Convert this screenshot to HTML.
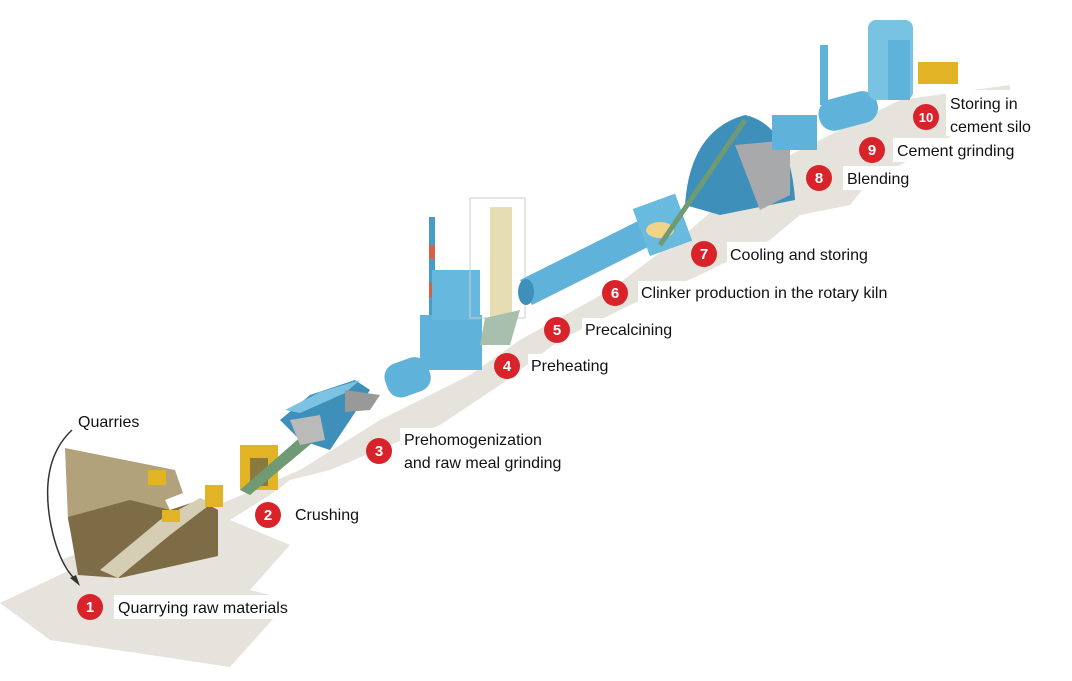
<!DOCTYPE html>
<html><head><meta charset="utf-8"><style>
html,body{margin:0;padding:0;background:#fff;width:1072px;height:681px;overflow:hidden}
svg{display:block}
text{font-family:"Liberation Sans",sans-serif}
.l{font-size:16px;fill:#111}
.n{font-size:15px;fill:#fff;font-weight:bold;text-anchor:middle}
</style></head><body>
<svg width="1072" height="681" viewBox="0 0 1072 681">
<!-- ground -->
<polygon fill="#e6e3dc" points="0,603 70,570 60,560 230,500 300,470 380,420 470,375 520,340 610,290 690,230 760,170 820,140 900,100 1010,85 1012,115 960,130 930,150 870,180 850,205 800,215 770,240 700,275 630,305 560,340 500,385 440,425 390,445 330,470 290,480 270,495 230,520 290,545 250,590 290,600 230,667 50,640"/>
<!-- quarry -->
<polygon fill="#b2a27c" points="65,448 175,470 183,493 165,500 170,510 185,513 216,510 218,555 120,575 80,575 68,520"/>
<polygon fill="#7d6c46" points="68,517 130,500 170,510 200,500 218,510 218,556 120,578 78,575"/>
<polygon fill="#d6cdb5" points="100,570 160,520 200,498 212,503 170,535 118,578"/>
<rect x="148" y="470" width="18" height="15" fill="#e3b326"/>
<rect x="162" y="510" width="18" height="12" fill="#e3b326"/>
<rect x="205" y="485" width="18" height="22" fill="#e3b326"/>
<!-- crusher -->
<rect x="240" y="445" width="38" height="45" fill="#e3b326"/>
<rect x="250" y="458" width="18" height="28" fill="#8a7a40"/>
<polygon fill="#6f9a74" points="240,490 320,420 330,428 250,495"/>
<!-- hall 3 -->
<polygon fill="#3f8fbb" points="280,420 310,395 355,380 370,390 330,450 300,440"/>
<polygon fill="#7cc2e2" points="285,410 320,392 360,380 345,393 300,413"/>
<polygon fill="#b9bab9" points="290,420 320,415 325,440 300,445"/>
<polygon fill="#999" points="345,390 380,395 370,410 345,412"/>
<rect x="385" y="360" width="45" height="35" rx="14" fill="#5fb2da" transform="rotate(-20 407 377)"/>
<!-- preheater tower -->
<rect x="429" y="217" width="6" height="105" fill="#4a9ac6"/>
<rect x="429" y="245" width="6" height="14" fill="#d66048"/>
<rect x="429" y="283" width="6" height="14" fill="#d66048"/>
<rect x="420" y="315" width="62" height="55" fill="#5fb2da"/>
<rect x="432" y="270" width="48" height="50" fill="#66b8de"/>
<rect x="470" y="198" width="55" height="120" fill="none" stroke="#ccc"/>
<rect x="490" y="207" width="22" height="110" fill="#e6ddb3"/>
<polygon fill="#a8bfae" points="485,318 520,310 510,345 480,345"/>
<!-- kiln -->
<polygon fill="#5fb2da" points="520,280 640,220 652,245 532,305"/>
<ellipse cx="526" cy="292" rx="8" ry="13" fill="#3f8fbb"/>
<rect x="640" y="200" width="45" height="50" fill="#68bade" transform="rotate(-20 662 225)"/>
<ellipse cx="660" cy="230" rx="14" ry="8" fill="#f1d48a"/>
<!-- cooler dome -->
<path d="M685,205 Q690,130 745,115 Q790,125 795,200 L720,215 Z" fill="#3f8fbb"/>
<path d="M735,145 L790,140 L790,195 L760,210 Z" fill="#a7a9aa"/>
<line x1="660" y1="245" x2="745" y2="120" stroke="#6f9a74" stroke-width="5"/>
<!-- blending / grinding -->
<rect x="772" y="115" width="45" height="35" fill="#5fb2da"/>
<rect x="818" y="95" width="60" height="32" rx="15" fill="#5fb2da" transform="rotate(-15 848 110)"/>
<rect x="820" y="45" width="8" height="60" fill="#5fb2da"/>
<rect x="868" y="20" width="45" height="80" rx="8" fill="#78c2e2"/>
<rect x="888" y="40" width="22" height="60" fill="#5fb2da"/>
<rect x="918" y="62" width="40" height="22" fill="#e3b326"/>
<!-- arrow -->
<path d="M72,430 Q40,460 50,520 Q58,565 78,582" fill="none" stroke="#333" stroke-width="1.5"/>
<polygon points="80,586 70,578 76,575" fill="#333"/>
<text x="78" y="427" class="l">Quarries</text>
<!-- labels -->
<g>
<rect x="114" y="595" width="196" height="24" fill="#fff"/>
<circle cx="90" cy="607" r="13" fill="#d8232a"/><text x="90" y="612" class="n">1</text>
<text x="118" y="613" class="l">Quarrying raw materials</text>
<rect x="291" y="503" width="80" height="24" fill="#fff"/>
<circle cx="268" cy="515" r="13" fill="#d8232a"/><text x="268" y="520" class="n">2</text>
<text x="295" y="520" class="l">Crushing</text>
<rect x="400" y="428" width="190" height="46" fill="#fff"/>
<circle cx="379" cy="451" r="13" fill="#d8232a"/><text x="379" y="456" class="n">3</text>
<text x="404" y="445" class="l">Prehomogenization</text>
<text x="404" y="468" class="l">and raw meal grinding</text>
<rect x="528" y="354" width="92" height="24" fill="#fff"/>
<circle cx="507" cy="366" r="13" fill="#d8232a"/><text x="507" y="371" class="n">4</text>
<text x="531" y="371" class="l">Preheating</text>
<rect x="582" y="318" width="106" height="24" fill="#fff"/>
<circle cx="557" cy="330" r="13" fill="#d8232a"/><text x="557" y="335" class="n">5</text>
<text x="585" y="335" class="l">Precalcining</text>
<rect x="638" y="281" width="300" height="24" fill="#fff"/>
<circle cx="615" cy="293" r="13" fill="#d8232a"/><text x="615" y="298" class="n">6</text>
<text x="641" y="298" class="l">Clinker production in the rotary kiln</text>
<rect x="727" y="242" width="166" height="24" fill="#fff"/>
<circle cx="704" cy="254" r="13" fill="#d8232a"/><text x="704" y="259" class="n">7</text>
<text x="730" y="260" class="l">Cooling and storing</text>
<rect x="843" y="166" width="78" height="24" fill="#fff"/>
<circle cx="819" cy="178" r="13" fill="#d8232a"/><text x="819" y="183" class="n">8</text>
<text x="847" y="184" class="l">Blending</text>
<rect x="893" y="138" width="138" height="24" fill="#fff"/>
<circle cx="872" cy="150" r="13" fill="#d8232a"/><text x="872" y="155" class="n">9</text>
<text x="897" y="156" class="l">Cement grinding</text>
<rect x="946" y="90" width="108" height="46" fill="#fff"/>
<circle cx="926" cy="117" r="13" fill="#d8232a"/><text x="926" y="122" class="n" style="font-size:13px">10</text>
<text x="950" y="109" class="l">Storing in</text>
<text x="950" y="132" class="l">cement silo</text>
</g>
</svg>
</body></html>
